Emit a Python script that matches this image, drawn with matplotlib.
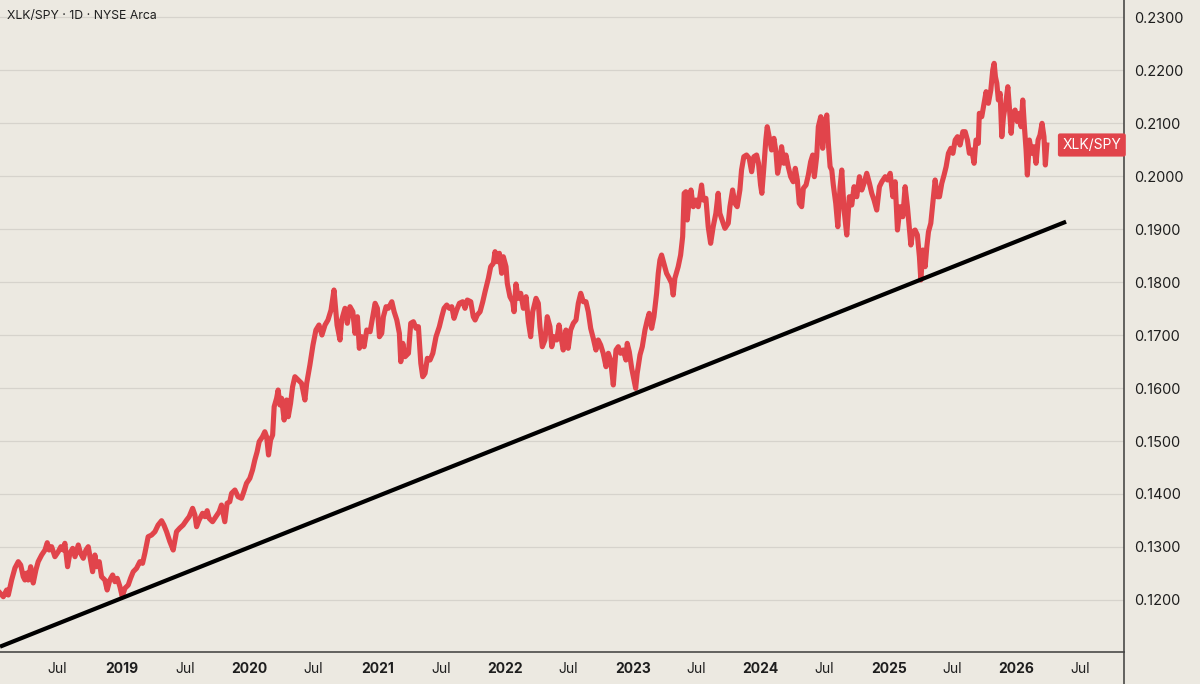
#!/usr/bin/env python3
from datetime import datetime
import matplotlib
matplotlib.use("Agg")
import matplotlib.pyplot as plt
from matplotlib.lines import Line2D


# XLK/SPY daily ratio (decimal year, ratio)
years=[
    2018.048,2018.074,2018.100,2018.113,2018.139,2018.165,2018.191,2018.210,2018.230,2018.243,
    2018.257,2018.269,2018.288,2018.308,2018.329,2018.347,2018.374,2018.400,2018.418,2018.433,
    2018.452,2018.478,2018.504,2018.525,2018.543,2018.556,2018.577,2018.595,2018.617,2018.635,
    2018.661,2018.679,2018.700,2018.721,2018.739,2018.757,2018.773,2018.791,2018.804,2018.825,
    2018.843,2018.869,2018.887,2018.908,2018.930,2018.948,2018.966,2018.987,2019.005,2019.026,
    2019.052,2019.070,2019.091,2019.117,2019.143,2019.164,2019.182,2019.208,2019.235,2019.261,
    2019.286,2019.313,2019.331,2019.352,2019.378,2019.404,2019.430,2019.456,2019.482,2019.509,
    2019.529,2019.556,2019.574,2019.587,2019.607,2019.634,2019.652,2019.670,2019.685,2019.712,
    2019.738,2019.764,2019.782,2019.800,2019.808,2019.826,2019.847,2019.861,2019.887,2019.912,
    2019.939,2019.957,2019.978,2020.004,2020.025,2020.043,2020.061,2020.077,2020.103,2020.121,
    2020.135,2020.150,2020.166,2020.182,2020.194,2020.213,2020.225,2020.239,2020.252,2020.272,
    2020.291,2020.304,2020.322,2020.338,2020.356,2020.382,2020.408,2020.434,2020.448,2020.473,
    2020.497,2020.520,2020.544,2020.567,2020.591,2020.614,2020.638,2020.661,2020.685,2020.708,
    2020.721,2020.747,2020.765,2020.786,2020.808,2020.825,2020.844,2020.859,2020.878,2020.896,
    2020.917,2020.943,2020.964,2020.982,2021.000,2021.016,2021.034,2021.047,2021.068,2021.086,
    2021.113,2021.131,2021.152,2021.172,2021.183,2021.199,2021.217,2021.243,2021.261,2021.282,
    2021.303,2021.321,2021.340,2021.355,2021.373,2021.391,2021.412,2021.434,2021.459,2021.485,
    2021.504,2021.522,2021.543,2021.563,2021.582,2021.600,2021.621,2021.642,2021.668,2021.686,
    2021.704,2021.731,2021.751,2021.765,2021.782,2021.804,2021.825,2021.843,2021.869,2021.887,
    2021.908,2021.921,2021.939,2021.955,2021.973,2021.986,2022.007,2022.017,2022.038,2022.059,
    2022.070,2022.085,2022.103,2022.122,2022.143,2022.164,2022.182,2022.200,2022.216,2022.242,
    2022.260,2022.273,2022.291,2022.312,2022.330,2022.351,2022.365,2022.383,2022.404,2022.422,
    2022.437,2022.455,2022.476,2022.494,2022.513,2022.534,2022.555,2022.573,2022.592,2022.612,
    2022.633,2022.651,2022.670,2022.690,2022.711,2022.729,2022.748,2022.768,2022.790,2022.808,
    2022.826,2022.847,2022.868,2022.886,2022.904,2022.925,2022.946,2022.956,2022.972,2022.991,
    2023.009,2023.022,2023.034,2023.056,2023.074,2023.095,2023.113,2023.128,2023.147,2023.165,
    2023.186,2023.199,2023.212,2023.225,2023.243,2023.264,2023.285,2023.304,2023.316,2023.329,
    2023.355,2023.374,2023.390,2023.402,2023.415,2023.426,2023.441,2023.455,2023.473,2023.494,
    2023.512,2023.525,2023.538,2023.551,2023.572,2023.590,2023.609,2023.629,2023.650,2023.668,
    2023.681,2023.699,2023.721,2023.747,2023.760,2023.781,2023.799,2023.817,2023.838,2023.851,
    2023.869,2023.890,2023.911,2023.930,2023.948,2023.969,2023.984,2024.000,2024.010,2024.026,
    2024.041,2024.052,2024.067,2024.086,2024.104,2024.120,2024.133,2024.151,2024.164,2024.182,
    2024.198,2024.216,2024.235,2024.255,2024.271,2024.287,2024.302,2024.321,2024.334,2024.355,
    2024.373,2024.391,2024.407,2024.420,2024.438,2024.451,2024.470,2024.485,2024.498,2024.517,
    2024.529,2024.543,2024.556,2024.568,2024.587,2024.603,2024.621,2024.634,2024.652,2024.673,
    2024.693,2024.712,2024.730,2024.751,2024.772,2024.790,2024.808,2024.829,2024.850,2024.868,
    2024.886,2024.907,2024.928,2024.947,2024.973,2024.991,2025.012,2025.033,2025.051,2025.069,
    2025.090,2025.111,2025.129,2025.147,2025.163,2025.174,2025.189,2025.207,2025.225,2025.241,
    2025.252,2025.268,2025.286,2025.299,2025.312,2025.330,2025.351,2025.364,2025.382,2025.398,
    2025.416,2025.434,2025.450,2025.468,2025.487,2025.503,2025.521,2025.539,2025.559,2025.581,
    2025.599,2025.617,2025.632,2025.651,2025.669,2025.684,2025.702,2025.710,2025.729,2025.747,
    2025.763,2025.781,2025.800,2025.815,2025.826,2025.836,2025.847,2025.859,2025.873,2025.886,
    2025.899,2025.917,2025.933,2025.945,2025.959,2025.972,2025.990,2026.008,2026.024,2026.037,
    2026.050,2026.063,2026.076,2026.086,2026.102,2026.120,2026.138,2026.154,2026.170,2026.185,
    2026.201,2026.216,2026.227,2026.238,
]

ratio=[
    0.12132,0.12062,0.12189,0.12094,0.12377,0.12604,0.12723,0.12660,0.12440,0.12377,
    0.12509,0.12377,0.12628,0.12321,0.12566,0.12723,0.12849,0.12943,0.13081,0.12943,
    0.13006,0.12817,0.12911,0.13006,0.12943,0.13070,0.12628,0.12881,0.12975,0.12817,
    0.13038,0.12881,0.12787,0.12943,0.13006,0.12755,0.12534,0.12849,0.12628,0.12723,
    0.12440,0.12377,0.12189,0.12377,0.12472,0.12345,0.12409,0.12251,0.12062,0.12221,
    0.12283,0.12409,0.12534,0.12598,0.12723,0.12692,0.12881,0.13194,0.13226,0.13289,
    0.13415,0.13496,0.13415,0.13289,0.13100,0.12943,0.13289,0.13358,0.13415,0.13509,
    0.13572,0.13730,0.13604,0.13383,0.13509,0.13636,0.13572,0.13685,0.13542,0.13477,
    0.13572,0.13666,0.13792,0.13572,0.13477,0.13825,0.13855,0.14013,0.14075,0.13949,
    0.13919,0.14043,0.14202,0.14296,0.14453,0.14642,0.14798,0.14987,0.15081,0.15175,
    0.15081,0.14736,0.15019,0.15113,0.15647,0.15806,0.15962,0.15679,0.15806,0.15396,
    0.15774,0.15458,0.15711,0.16025,0.16213,0.16151,0.16089,0.15774,0.16089,0.16434,
    0.16811,0.17094,0.17189,0.17000,0.17189,0.17283,0.17472,0.17849,0.17189,0.16906,
    0.17283,0.17504,0.17221,0.17534,0.17440,0.17032,0.17345,0.16749,0.16968,0.16779,
    0.17094,0.17062,0.17345,0.17598,0.17504,0.16968,0.17032,0.17345,0.17534,0.17504,
    0.17628,0.17440,0.17283,0.17032,0.16496,0.16843,0.16591,0.16655,0.17221,0.17251,
    0.17126,0.17157,0.16466,0.16213,0.16277,0.16560,0.16528,0.16655,0.16968,0.17157,
    0.17345,0.17504,0.17566,0.17504,0.17534,0.17315,0.17472,0.17598,0.17628,0.17504,
    0.17660,0.17628,0.17345,0.17283,0.17377,0.17440,0.17628,0.17817,0.18070,0.18289,
    0.18353,0.18572,0.18383,0.18542,0.18164,0.18477,0.18289,0.17975,0.17723,0.17628,
    0.17440,0.17962,0.17692,0.17787,0.17504,0.17723,0.17251,0.16968,0.17440,0.17692,
    0.17598,0.17157,0.16779,0.16906,0.17345,0.17157,0.16779,0.16968,0.16906,0.17189,
    0.16968,0.16717,0.17094,0.16749,0.17094,0.17221,0.17283,0.17598,0.17787,0.17628,
    0.17628,0.17440,0.17126,0.16938,0.16717,0.16906,0.16811,0.16655,0.16402,0.16655,
    0.16528,0.16057,0.16717,0.16779,0.16655,0.16717,0.16528,0.16843,0.16685,0.16372,
    0.16151,0.15994,0.16277,0.16623,0.16779,0.17094,0.17283,0.17409,0.17126,0.17345,
    0.17787,0.18164,0.18415,0.18509,0.18353,0.18164,0.18070,0.17975,0.17755,0.18070,
    0.18289,0.18509,0.18855,0.19674,0.19704,0.19170,0.19547,0.19736,0.19421,0.19547,
    0.19421,0.19609,0.19830,0.19547,0.19579,0.19043,0.18730,0.19043,0.19296,0.19674,
    0.19296,0.19170,0.19013,0.19108,0.19421,0.19736,0.19485,0.19421,0.19736,0.20113,
    0.20364,0.20396,0.20334,0.20081,0.20364,0.20396,0.20240,0.19830,0.19674,0.20175,
    0.20679,0.20930,0.20742,0.20491,0.20711,0.20458,0.20051,0.20270,0.20553,0.20240,
    0.20396,0.20175,0.19987,0.19892,0.20145,0.19925,0.19485,0.19421,0.19768,0.19830,
    0.20019,0.20270,0.20396,0.19987,0.20364,0.20930,0.21119,0.20523,0.20962,0.21151,
    0.20617,0.20175,0.20113,0.19830,0.19485,0.19043,0.19798,0.20113,0.19358,0.18887,
    0.19609,0.19453,0.19798,0.19609,0.19987,0.19736,0.19862,0.20051,0.19862,0.19674,
    0.19547,0.19358,0.19798,0.19892,0.19987,0.19925,0.20051,0.19609,0.19892,0.18981,
    0.19421,0.19232,0.19798,0.19421,0.18981,0.18698,0.18949,0.18981,0.18887,0.18477,
    0.18038,0.18604,0.18289,0.18666,0.18949,0.19108,0.19609,0.19925,0.19609,0.19609,
    0.19862,0.20019,0.20175,0.20428,0.20523,0.20428,0.20679,0.20742,0.20585,0.20836,
    0.20836,0.20679,0.20428,0.20491,0.20240,0.20679,0.20617,0.21183,0.21119,0.21372,
    0.21591,0.21372,0.21623,0.22000,0.22126,0.21874,0.21749,0.21434,0.21560,0.20742,
    0.21119,0.21372,0.21685,0.21308,0.20806,0.21183,0.21245,0.21025,0.21183,0.20930,
    0.21434,0.20930,0.20491,0.20019,0.20679,0.20428,0.20553,0.20240,0.20679,0.20774,
    0.20994,0.20742,0.20208,0.20585,
]

# hand drawn support line (start/end anchors)
trend_years=[2018.048,2026.389]
trend_vals=[0.11119,0.19138]

price_ticks=[0.12,0.13,0.14,0.15,0.16,0.17,0.18,0.19,0.20,0.21,0.22,0.23]
tick_years=[2019,2020,2021,2022,2023,2024,2025,2026]

BG="#ECE9E1"
RED="#E1444B"
AXIS="#4A4A48"
GRID="#D6D3CC"


def to_date(yr):
    y=int(yr)
    start=datetime(y,1,1)
    end=datetime(y+1,1,1)
    return start+(end-start)*(yr-y)


def main():
    plt.rcParams["font.family"]=["Inter","DejaVu Sans"]

    fig=plt.figure(figsize=(12,6.84),dpi=100,facecolor=BG)
    ax=fig.add_axes([0,0.0468,0.9367,0.9532])
    ax.set_facecolor(BG)

    dates=[to_date(y) for y in years]
    ax.plot(dates,ratio,color=RED,linewidth=3.7,solid_joinstyle="round",zorder=3)

    ax.plot(
        [to_date(y) for y in trend_years],
        trend_vals,
        color="black",
        linewidth=3.0,
        solid_capstyle="butt",
        zorder=4,
    )

    ax.set_xlim(to_date(2018.048),to_date(2026.843))
    ax.set_ylim(0.11019,0.23321)

    # x ticks: bold year at Jan, "Jul" mid-year
    xt=[]
    xl=[]
    for y in range(2018,2027):
        if y in tick_years:
            xt.append(datetime(y,1,1))
            xl.append(str(y))
        xt.append(datetime(y,7,1))
        xl.append("Jul")
    ax.set_xticks(xt)
    ax.set_xticklabels(xl)
    for lab in ax.get_xticklabels():
        if lab.get_text()!="Jul":
            lab.set_fontweight("bold")

    ax.set_yticks(price_ticks)
    ax.set_yticklabels([f"{v:.4f}" for v in price_ticks])
    ax.yaxis.tick_right()
    ax.tick_params(axis="y",length=0,pad=7,labelsize=10.5,labelcolor="#1e1e1e")
    ax.tick_params(axis="x",length=0,pad=7,labelsize=10,labelcolor="#1e1e1e")

    ax.grid(axis="y",color=GRID,linewidth=0.9,zorder=0)
    ax.grid(axis="x",visible=False)

    for side in ["top","left"]:
        ax.spines[side].set_visible(False)
    ax.spines["bottom"].set_color(AXIS)
    ax.spines["bottom"].set_linewidth(1.2)
    ax.spines["right"].set_color(AXIS)
    ax.spines["right"].set_linewidth(1.2)

    # price scale separator continues through the time scale
    fig.add_artist(Line2D([0.9367,0.9367],[0,0.0468],color=AXIS,linewidth=1.2))

    ax.text(
        0.006,
        0.985,
        "XLK/SPY · 1D · NYSE Arca",
        transform=ax.transAxes,
        ha="left",
        va="top",
        fontsize=8.8,
        color="#1e1e1e",
    )

    ax.text(
        0.9975,
        ratio[-1],
        "XLK/SPY",
        transform=ax.get_yaxis_transform(),
        ha="right",
        va="center",
        fontsize=10,
        color="white",
        zorder=6,
        bbox=dict(boxstyle="round,pad=0.33,rounding_size=0.15",facecolor=RED,edgecolor="none"),
    )

    fig.savefig("out.png",dpi=100,facecolor=BG)
    plt.close(fig)


if __name__=="__main__":
    main()
